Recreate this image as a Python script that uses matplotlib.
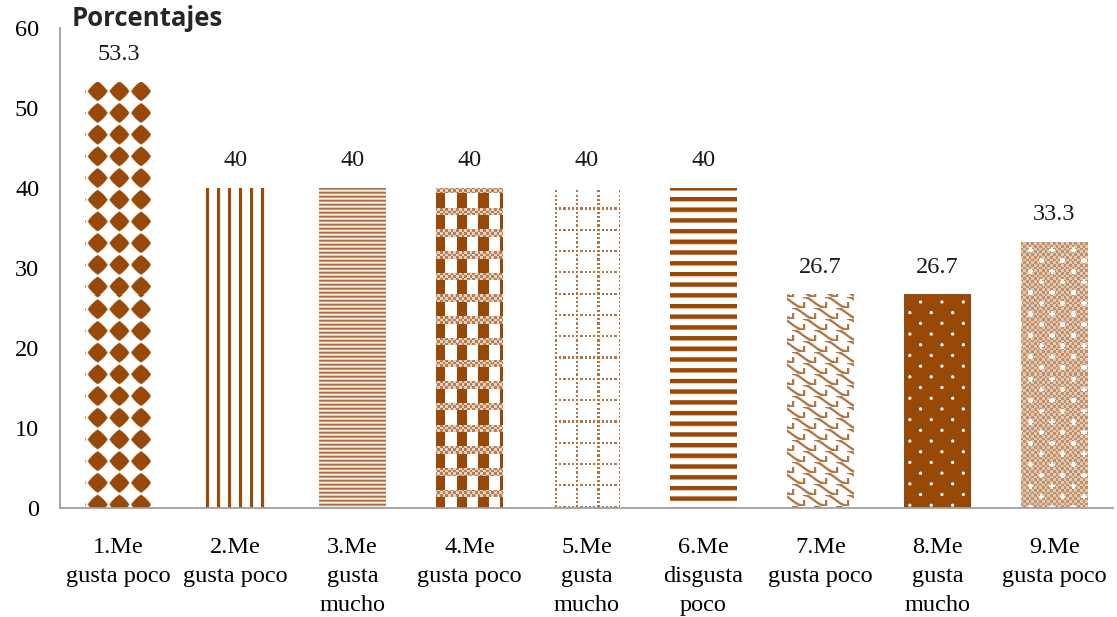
import numpy as np
import matplotlib
matplotlib.use("Agg")
import matplotlib.pyplot as plt

categorias = ["1.Me\ngusta poco", "2.Me\ngusta poco", "3.Me\ngusta\nmucho",
              "4.Me\ngusta poco", "5.Me\ngusta\nmucho", "6.Me\ndisgusta\npoco",
              "7.Me\ngusta poco", "8.Me\ngusta\nmucho", "9.Me\ngusta poco"]
porcentajes = [53.3, 40, 40, 40, 40, 40, 26.7, 26.7, 33.3]
etiquetas = ["53.3", "40", "40", "40", "40", "40", "26.7", "26.7", "33.3"]
y_ticks = [0, 10, 20, 30, 40, 50, 60]

CAFE = np.array([152, 72, 7]) / 255.0
BLANCO = np.ones(3)
W, H = 1117, 617


def mezcla(a):
    a = np.clip(a, 0, 1)[..., None]
    return BLANCO * (1 - a) + CAFE * a


def suave(d, w=1.0):
    # borde suavizado: 1 dentro, 0 fuera
    return np.clip(d / w + 0.5, 0, 1)


def damero(x, y, c=2.7):
    return (np.floor(x / c) + np.floor(y / c)) % 2 == 0


# tramas de relleno, x/y en pixeles de la figura (y hacia abajo)
def diamantes(x, y):
    p = 21.7
    cx = np.abs(np.mod(x - 87, p) - p / 2)
    cy = np.abs(np.mod(y - 81, p) - p / 2)
    d = (cx ** 1.2 + cy ** 1.2) ** (1 / 1.2)
    return suave(9.8 - d, 1.6)


def verticales(x, y):
    u = np.mod(x - 206, 11.0)
    return suave(1.6 - np.abs(u - 1.6), 1.2)


def horizontales_finas(x, y):
    v = np.mod(np.floor(y), 4)
    return np.select([v == 0, v == 1, v == 2], [0.8, 0.55, 0.08], 0.3)


def tejido(x, y):
    p = 21.7
    u = np.mod(x - 435, p)
    v = np.mod(y - 186, p)
    banda = np.where(damero(x, y), 0.7, 0.25)
    bloque = np.where(u < 10.5, 1.0, 0.0)
    return np.where(v < 7.5, banda, bloque)


def rejilla_puntos(x, y):
    p = 21.3
    u = np.mod(x - 555, p)
    v = np.mod(y - 186, p)
    px = np.mod(x - 555, p / 5)
    py = np.mod(y - 186, p / 5)
    lin_v = (u < 2.2) & (py < 2.2)
    lin_h = (v < 2.2) & (px < 2.2)
    return np.where(lin_v | lin_h, 0.75, 0.0)


def franjas(x, y):
    v = np.mod(y - 186, 10.7)
    return suave(2.3 - np.abs(v - 2.3), 1.5)


def escamas(x, y):
    alto, ancho = 11.0, 22.0
    fila = np.floor(y / alto)
    u = np.mod(x + fila * 11.0, ancho) / ancho
    v = np.mod(y, alto)
    s = u * u * (3 - 2 * u)
    d = np.abs(v - alto * s)
    curva = suave(1.4 - d, 1.2)
    borde = suave(1.2 - np.abs(u * ancho - 1.2), 1.0) * (v > alto * 0.45)
    return 0.75 * np.maximum(curva, borde)


def puntos_blancos(x, y):
    fila = np.floor((y - 297) / 10.7)
    u = np.mod(x - 910 + fila * 10.7, 21.4) - 10.7
    v = np.mod(y - 297, 10.7) - 5.35
    r = np.sqrt(u ** 2 + v ** 2)
    return 1 - suave(1.6 - r, 1.0)


def cuadricula_cruces(x, y):
    base = np.where(damero(x, y), 0.6, 0.3)
    fila = np.floor((y - 245) / 10.7)
    u = np.mod(x - 1020 + fila * 10.7, 21.4) - 10.7
    v = np.mod(y - 245, 10.7) - 5.35
    cruz = ((np.abs(u) < 1.2) & (np.abs(v) < 2.6)) | ((np.abs(v) < 1.2) & (np.abs(u) < 2.6))
    return np.where(cruz, 0.0, base)


tramas = [diamantes, verticales, horizontales_finas, tejido, rejilla_puntos,
          franjas, escamas, puntos_blancos, cuadricula_cruces]

plt.rcParams["font.family"] = ["Liberation Serif", "DejaVu Serif"]

fig = plt.figure(figsize=(W / 100, H / 100), dpi=100)
ax = fig.add_axes([60 / W, (H - 508) / H, 1053 / W, 480 / H])
ax.set_xlim(-0.5, len(categorias) - 0.5)
ax.set_ylim(0, 60)

pos = np.arange(len(categorias))
barras = ax.bar(pos, porcentajes, width=0.57, facecolor="none", edgecolor="none")

for barra, trama in zip(barras, tramas):
    x0, x1 = barra.get_x(), barra.get_x() + barra.get_width()
    h = barra.get_height()
    (px0, py0), (px1, py1) = ax.transData.transform([(x0, 0), (x1, h)])
    nx = int(round(px1 - px0))
    ny = int(round(py1 - py0))
    xs = px0 + np.arange(nx) + 0.5
    ys = (H - py1) + np.arange(ny) + 0.5
    X, Y = np.meshgrid(xs, ys)
    img = mezcla(trama(X, Y))
    im = ax.imshow(img, extent=(x0, x1, 0, h), origin="upper",
                   interpolation="nearest", aspect="auto", zorder=2)
    im.set_clip_path(barra)

for p, v, t in zip(pos, porcentajes, etiquetas):
    ax.annotate(t, (p, v), xytext=(0, 12), textcoords="offset points",
                ha="center", va="bottom", fontsize=17.5, color="#1a1a1a")

ax.set_xlim(-0.5, len(categorias) - 0.5)
ax.set_ylim(0, 60)
ax.set_yticks(y_ticks)
ax.set_xticks(pos)
ax.set_xticklabels(categorias, fontsize=17.5, linespacing=1.48, va="top")
ax.tick_params(axis="y", length=0, pad=15, labelsize=17.5)
ax.tick_params(axis="x", length=0, pad=21)

for lado in ["top", "right"]:
    ax.spines[lado].set_visible(False)
for lado in ["left", "bottom"]:
    ax.spines[lado].set_color("#a0a0a0")
    ax.spines[lado].set_linewidth(1.3)

fig.text(72 / W, 1 - 18 / H, "Porcentajes", fontsize=18.5, fontweight="bold",
         family=["Open Sans", "DejaVu Sans"], va="center", ha="left", color="#262626")

fig.savefig("out.png", dpi=100)
